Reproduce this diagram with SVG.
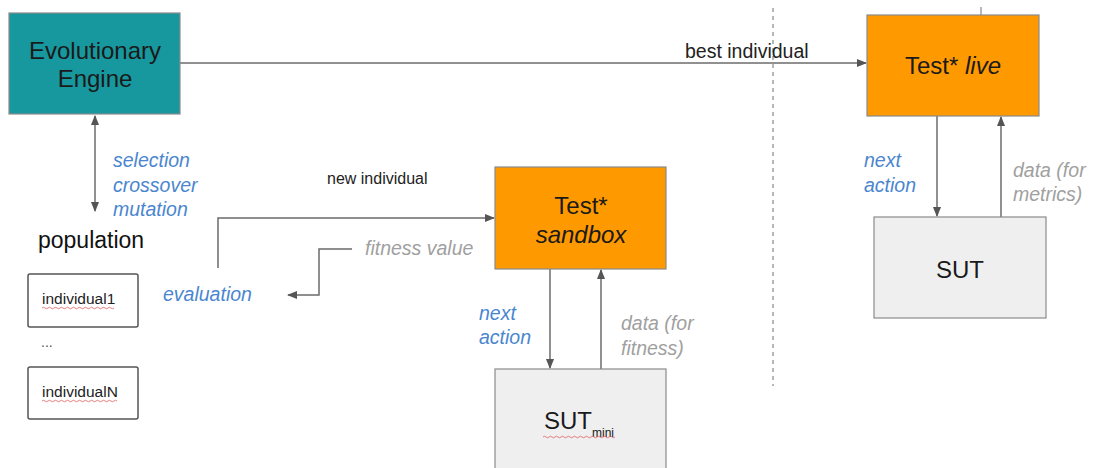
<svg xmlns="http://www.w3.org/2000/svg" width="1094" height="468" viewBox="0 0 1094 468">
  <style>
    text { font-family: "Liberation Sans", Arial, sans-serif; }
    .box { stroke: #8a8a8a; stroke-width: 1.2; }
    .engine { fill: #17989e; }
    .test { fill: #ff9900; }
    .sut { fill: #efefef; }
    .ind { fill: #ffffff; stroke: #555; stroke-width: 1.5; }
    .title { font-size: 24px; fill: #1a1a1a; text-anchor: middle; }
    .blue { font-size: 19.5px; font-style: italic; fill: #4a86cf; }
    .grey { font-size: 19.5px; font-style: italic; fill: #a0a0a0; }
    .lbl { fill: #222; }
    .edge { fill: none; stroke: #6b6b6b; stroke-width: 1.5; }
    .squiggle { fill: none; stroke: #e06060; stroke-width: 0.8; }
  </style>
  <defs>
    <marker id="arrow" viewBox="0 0 10 10" refX="9" refY="5" markerWidth="7" markerHeight="7" orient="auto-start-reverse">
      <path d="M0,1 L10,5 L0,9 z" fill="#555"/>
    </marker>
  </defs>

  <rect width="1094" height="468" fill="#ffffff"/>

  <!-- separator between sandbox and live side -->
  <line x1="773" y1="8" x2="773" y2="386" stroke="#888" stroke-width="1.2" stroke-dasharray="4 4"/>

  <g id="connectors">
    <!-- engine to live test -->
    <line class="edge" x1="180" y1="63" x2="866" y2="63" marker-end="url(#arrow)"/>
    <!-- engine <-> population -->
    <line class="edge" x1="95" y1="116" x2="95" y2="211" marker-start="url(#arrow)" marker-end="url(#arrow)"/>
    <!-- new individual into sandbox -->
    <polyline class="edge" points="218,268 218,218 494,218" marker-end="url(#arrow)"/>
    <!-- fitness value back to evaluation -->
    <polyline class="edge" points="352,249 319,249 319,295 288,295" marker-end="url(#arrow)"/>
    <!-- sandbox <-> SUT mini -->
    <line class="edge" x1="550" y1="269" x2="550" y2="368" marker-end="url(#arrow)"/>
    <line class="edge" x1="601" y1="369" x2="601" y2="270" marker-end="url(#arrow)"/>
    <!-- live <-> SUT -->
    <line class="edge" x1="937" y1="116" x2="937" y2="216" marker-end="url(#arrow)"/>
    <line class="edge" x1="1001" y1="217" x2="1001" y2="117" marker-end="url(#arrow)"/>
    <!-- stub above live test -->
    <line x1="981" y1="7" x2="981" y2="15" stroke="#888" stroke-width="1.2"/>
  </g>

  <g id="engine">
    <rect class="box engine" x="9" y="13" width="171" height="101"/>
    <text class="title" x="95" y="59">Evolutionary</text>
    <text class="title" x="95" y="87">Engine</text>
  </g>

  <g id="test-live">
    <rect class="box test" x="867" y="15" width="172" height="101"/>
    <text class="title" x="953" y="74">Test* <tspan font-style="italic">live</tspan></text>
  </g>

  <g id="sut-live">
    <rect class="box sut" x="874" y="217" width="172" height="101"/>
    <text class="title" x="960" y="278">SUT</text>
  </g>

  <g id="test-sandbox">
    <rect class="box test" x="495" y="167" width="171" height="102"/>
    <text class="title" x="581" y="214">Test*</text>
    <text class="title" x="581" y="243" font-style="italic">sandbox</text>
  </g>

  <g id="sut-mini">
    <rect class="box sut" x="495" y="369" width="171" height="110"/>
    <text x="544" y="429" font-size="24" fill="#1a1a1a">SUT<tspan font-size="12" dy="8">mini</tspan></text>
    <path class="squiggle" d="M543,437 q1.5,-1.5 3,0 t3,0 t3,0 t3,0 t3,0 t3,0 t3,0 t3,0 t3,0 t3,0 t3,0 t3,0 t3,0 t3,0 t3,0 t3,0 t3,0 t3,0 t3,0 t3,0 t3,0 t3,0 t3,0 t3,0"/>
  </g>

  <g id="population">
    <text x="38" y="248" font-size="23" fill="#111">population</text>
    <rect class="ind" x="28" y="274" width="110" height="53" rx="2"/>
    <text x="42" y="304" font-size="15.5" class="lbl">individual1</text>
    <path class="squiggle" d="M42,308 q1.5,-1.5 3,0 t3,0 t3,0 t3,0 t3,0 t3,0 t3,0 t3,0 t3,0 t3,0 t3,0 t3,0 t3,0 t3,0 t3,0 t3,0 t3,0 t3,0 t3,0 t3,0 t3,0 t3,0 t3,0 t3,0"/>
    <text x="41" y="347" font-size="14" fill="#555">...</text>
    <rect class="ind" x="28" y="367" width="110" height="52" rx="2"/>
    <text x="42" y="397" font-size="15.5" class="lbl">individualN</text>
    <path class="squiggle" d="M42,401 q1.5,-1.5 3,0 t3,0 t3,0 t3,0 t3,0 t3,0 t3,0 t3,0 t3,0 t3,0 t3,0 t3,0 t3,0 t3,0 t3,0 t3,0 t3,0 t3,0 t3,0 t3,0 t3,0 t3,0 t3,0 t3,0 t3,0"/>
  </g>

  <g id="labels">
    <text x="685" y="58" font-size="19.5" class="lbl">best individual</text>
    <text x="327" y="184" font-size="16" class="lbl">new individual</text>
    <text class="blue" x="113" y="167">selection</text>
    <text class="blue" x="113" y="192">crossover</text>
    <text class="blue" x="113" y="216">mutation</text>
    <text class="grey" x="365" y="255">fitness value</text>
    <text class="blue" x="163" y="301">evaluation</text>
    <text class="blue" x="479" y="320">next</text>
    <text class="blue" x="479" y="344">action</text>
    <text class="grey" x="621" y="330">data (for</text>
    <text class="grey" x="621" y="355">fitness)</text>
    <text class="blue" x="864" y="167">next</text>
    <text class="blue" x="864" y="192">action</text>
    <text class="grey" x="1013" y="177">data (for</text>
    <text class="grey" x="1013" y="201">metrics)</text>
  </g>
</svg>
